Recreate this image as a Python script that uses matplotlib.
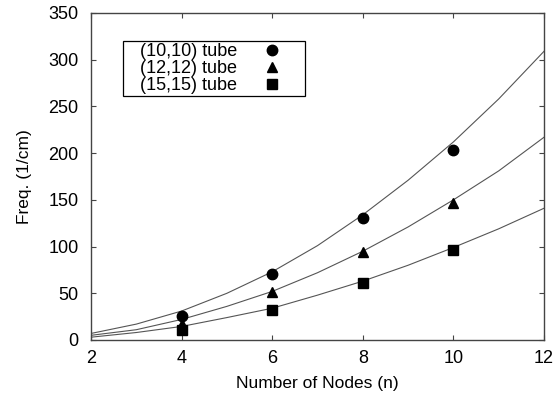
import numpy as np
import matplotlib
matplotlib.use('Agg')
import matplotlib.pyplot as plt

plt.rcParams['font.family'] = ['Liberation Sans', 'DejaVu Sans']

# measured points
nodes = [4, 6, 8, 10]
freq_10 = [26, 71, 131, 203]
freq_12 = [17, 51, 94, 147]
freq_15 = [11, 32, 61, 96]

# fitted curves at each n
n_curve = [2, 3, 4, 5, 6, 7, 8, 9, 10, 11, 12]
fit_10 = [7, 17, 31, 50, 73, 101, 134, 171, 212, 258, 309]
fit_12 = [5, 11, 22, 36, 52, 72, 95, 121, 150, 181, 217]
fit_15 = [3, 8, 14.5, 24, 34, 48, 63, 80, 99, 119, 141]

labels = ['(10,10) tube', '(12,12) tube', '(15,15) tube']

fig = plt.figure(figsize=(5.57, 3.97), dpi=100)
ax = fig.add_axes([0.1634, 0.1436, 0.8133, 0.8237])

lc = '#555555'
for yc in (fit_10, fit_12, fit_15):
    ax.plot(n_curve, yc, '-', color=lc, lw=0.8)

ax.plot(nodes, freq_10, 'o', color='black', ms=7.5, ls='none', label='   ' + labels[0])
ax.plot(nodes, freq_12, '^', color='black', ms=7, ls='none', label='   ' + labels[1])
ax.plot(nodes, freq_15, 's', color='black', ms=7, ls='none', label='   ' + labels[2])

ax.set_xlim(2, 12)
ax.set_ylim(0, 350)
ax.set_xticks([2, 4, 6, 8, 10, 12])
ax.set_yticks(np.arange(0, 351, 50))
ax.tick_params(direction='in', length=3.5, width=0.8, top=True, right=True,
               labelsize=13, color='#444444')
ax.tick_params(axis='x', pad=7)
ax.tick_params(axis='y', pad=9)
for s in ax.spines.values():
    s.set_color('#444444')
    s.set_linewidth(1)

ax.set_xlabel('Number of Nodes (n)', fontsize=12.5, labelpad=7)
ax.set_ylabel('Freq. (1/cm)', fontsize=12.5, labelpad=12)

leg = ax.legend(loc='upper left', bbox_to_anchor=(0.0706, 0.914), borderaxespad=0,
                markerfirst=False, fancybox=False, edgecolor='black', fontsize=13,
                handlelength=3.4, handletextpad=0.2, labelspacing=0.0,
                borderpad=0.12, framealpha=1)
leg.get_frame().set_linewidth(0.9)

fig.savefig('out.png', dpi=100)
